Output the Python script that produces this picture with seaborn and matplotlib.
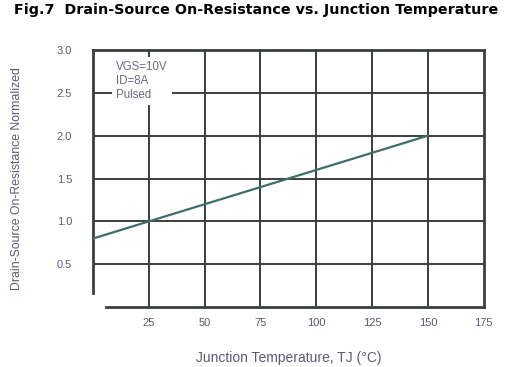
import matplotlib
matplotlib.use("Agg")
import matplotlib.pyplot as plt
import seaborn as sns
import pandas as pd

# Data
temperature = [0, 150]
rds_on_norm = [0.8, 2.0]
x_ticks = [25, 50, 75, 100, 125, 150, 175]
y_ticks = [0.5, 1.0, 1.5, 2.0, 2.5, 3.0]
conditions = "VGS=10V\nID=8A\nPulsed"

df = pd.DataFrame({"TJ": temperature, "R": rds_on_norm})

sns.set_style("white")
plt.rcParams["font.family"] = ["Liberation Sans", "DejaVu Sans"]

fig = plt.figure(figsize=(5.13, 3.67), dpi=100)
ax = fig.add_axes([0.181, 0.163, 0.762, 0.701])

grid_col = "#3a3f3c"
label_col = "#5a5a78"

ax.set_xlim(0, 175)
ax.set_ylim(0, 3.0)
for x in x_ticks[:-1]:
    ax.axvline(x, color=grid_col, lw=1.4, zorder=1)
for y in y_ticks[:-1]:
    ax.axhline(y, color=grid_col, lw=1.4, zorder=1)

sns.lineplot(data=df, x="TJ", y="R", ax=ax, color="#3f6e68", lw=1.6, zorder=3)

ax.text(10.5, 2.87, conditions, fontsize=8.3, color="#6a6a80", va="top", ha="left",
        linespacing=1.2, zorder=4,
        bbox=dict(facecolor="white", edgecolor="none", pad=3))

ax.set_xticks(x_ticks)
ax.set_yticks(y_ticks)
ax.set_xticklabels([str(v) for v in x_ticks])
ax.set_yticklabels([f"{v:.1f}" for v in y_ticks])
ax.tick_params(axis="both", length=0, labelsize=8, labelcolor=label_col, pad=8)
ax.tick_params(axis="y", pad=15)

for side in ["top", "right", "left", "bottom"]:
    ax.spines[side].set_color(grid_col)
    ax.spines[side].set_linewidth(2)
ax.spines["left"].set_bounds(0.17, 3.0)
ax.spines["bottom"].set_bounds(6, 175)

ax.set_xlabel("Junction Temperature, TJ (°C)", fontsize=10, color=label_col, labelpad=16)
ax.set_ylabel("Drain-Source On-Resistance Normalized", fontsize=8.8, color=label_col, labelpad=24)

fig.text(0.5, 0.972, "Fig.7  Drain-Source On-Resistance vs. Junction Temperature",
         ha="center", va="center", fontsize=10.3, fontweight="bold", color="black",
         family="DejaVu Sans")

fig.savefig("out.png", dpi=100)
